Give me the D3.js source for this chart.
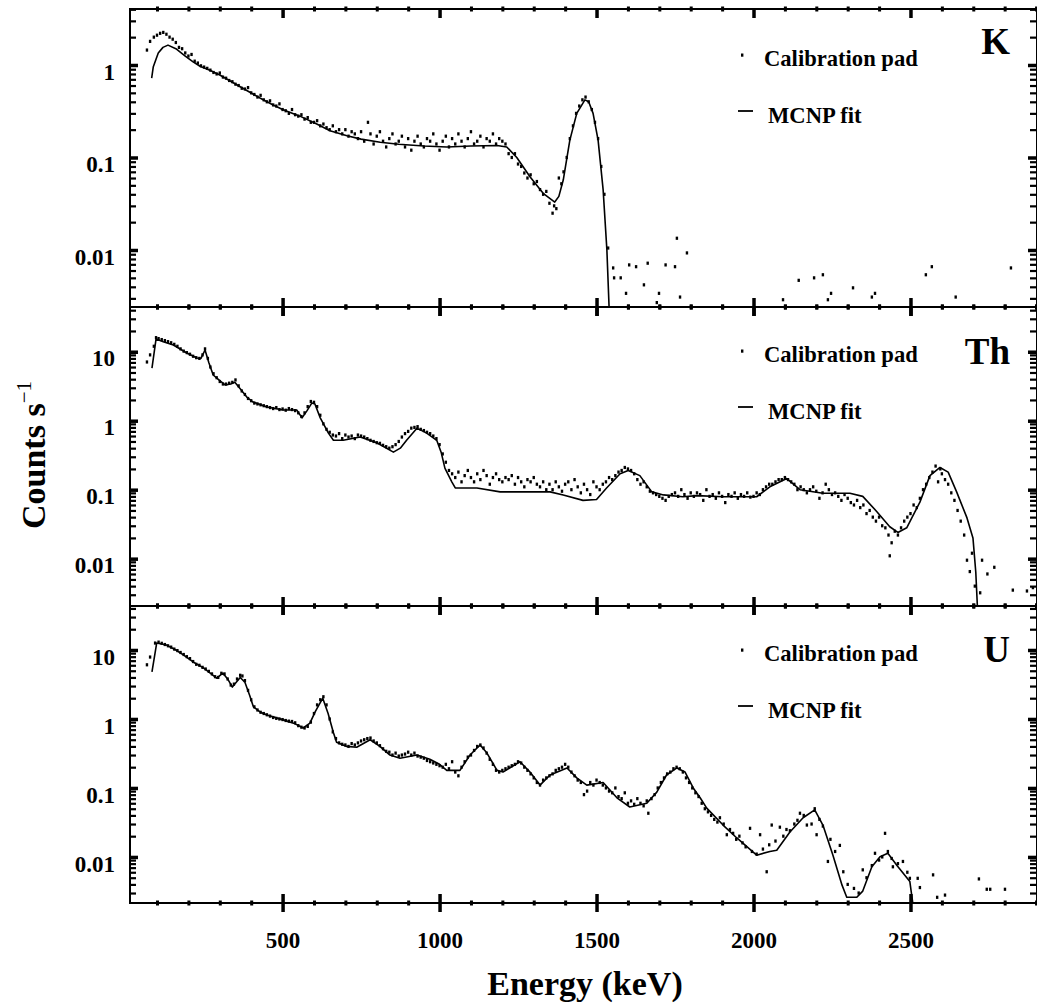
<!DOCTYPE html>
<html><head><meta charset="utf-8">
<script src="https://cdn.jsdelivr.net/npm/d3@7"></script>
<style>
body{margin:0;background:#fff}
svg{display:block}
text{font-family:"Liberation Serif","Times New Roman",serif;font-weight:bold;fill:#000}
</style>
</head><body>
<svg id="c" width="1037" height="1005"></svg>
<script>
// ---------- data (Energy keV, counts/s) ----------
const kFit = [[83,0.72],[88,0.95],[104,1.35],[119,1.55],[135,1.64],[160,1.5],[190,1.25],[215,1.08],[237,0.97],[270,0.87],[300,0.78],[340,0.65],[386,0.53],[428,0.44],[470,0.37],[500,0.33],[555,0.28],[609,0.23],[651,0.195],[705,0.172],[750,0.158],[811,0.146],[870,0.139],[950,0.133],[1023,0.13],[1100,0.133],[1183,0.135],[1214,0.13],[1246,0.1],[1288,0.062],[1330,0.041],[1367,0.033],[1380,0.038],[1394,0.057],[1415,0.154],[1437,0.3],[1463,0.42],[1475,0.4],[1489,0.3],[1505,0.154],[1521,0.045],[1533,0.01],[1540,0.0024]];
const kData = [[68,1.45],[78,1.8],[90,2.0],[100,2.1],[110,2.2],[120,2.25],[130,2.15],[140,2.0],[150,1.9],[160,1.75],[170,1.55],[180,1.5],[190,1.35],[200,1.25],[210,1.3],[220,1.1],[230,1.05],[240,0.98],[250,0.95],[260,0.92],[270,0.88],[280,0.83],[290,0.8],[300,0.82],[310,0.74],[320,0.72],[330,0.68],[340,0.66],[350,0.62],[360,0.6],[370,0.56],[380,0.55],[390,0.57],[400,0.5],[410,0.48],[420,0.45],[430,0.47],[440,0.42],[450,0.4],[460,0.41],[470,0.37],[480,0.36],[490,0.38],[500,0.33],[510,0.32],[520,0.3],[530,0.33],[540,0.29],[550,0.28],[560,0.29],[570,0.26],[580,0.27],[590,0.24],[600,0.24],[610,0.25],[620,0.22],[630,0.23],[640,0.21],[650,0.2],[660,0.22],[670,0.19],[680,0.2],[690,0.18],[700,0.2],[710,0.17],[720,0.19],[730,0.18],[740,0.16],[750,0.19],[760,0.15],[772,0.24],[780,0.18],[790,0.14],[800,0.17],[810,0.19],[820,0.15],[830,0.13],[840,0.16],[850,0.18],[860,0.14],[870,0.15],[880,0.17],[890,0.13],[900,0.16],[910,0.12],[920,0.15],[930,0.17],[940,0.14],[950,0.13],[960,0.16],[970,0.15],[980,0.18],[990,0.14],[1000,0.12],[1010,0.15],[1020,0.17],[1030,0.13],[1040,0.16],[1050,0.14],[1060,0.18],[1070,0.15],[1080,0.13],[1090,0.16],[1100,0.19],[1110,0.14],[1120,0.15],[1130,0.17],[1140,0.13],[1150,0.16],[1160,0.15],[1170,0.18],[1180,0.14],[1190,0.16],[1200,0.15],[1210,0.14],[1220,0.11],[1230,0.1],[1240,0.11],[1250,0.085],[1260,0.08],[1270,0.068],[1280,0.06],[1290,0.065],[1300,0.052],[1310,0.055],[1320,0.045],[1330,0.04],[1340,0.043],[1350,0.032],[1360,0.025],[1365,0.03],[1372,0.028],[1380,0.06],[1388,0.052],[1395,0.07],[1405,0.1],[1415,0.16],[1425,0.22],[1435,0.3],[1445,0.36],[1455,0.42],[1465,0.45],[1475,0.4],[1485,0.33],[1495,0.24],[1505,0.16],[1515,0.08],[1525,0.04],[1537,0.0105],[1553,0.0064],[1556,0.005],[1577,0.005],[1594,0.0034],[1604,0.0069],[1626,0.0066],[1651,0.0042],[1663,0.0072],[1692,0.0027],[1699,0.0034],[1720,0.0069],[1750,0.0066],[1756,0.0134],[1766,0.0031],[1788,0.0093],[2094,0.0029],[2144,0.0047],[2193,0.005],[2221,0.0054],[2237,0.0029],[2247,0.0034],[2317,0.0039],[2377,0.0031],[2387,0.0034],[2549,0.0054],[2568,0.0066],[2644,0.0031],[2820,0.0064]];

const thFit = [[84,5.8],[97,15.3],[120,14],[152,12.5],[195,9.6],[227,8.1],[240,8.0],[253,10.6],[265,7],[279,4.6],[300,3.8],[317,3.3],[335,3.4],[348,3.6],[365,2.9],[386,2.2],[406,1.86],[450,1.58],[502,1.43],[545,1.43],[562,1.1],[578,1.4],[593,1.8],[603,1.75],[620,1.1],[646,0.66],[662,0.52],[693,0.52],[747,0.58],[800,0.48],[853,0.35],[875,0.4],[895,0.52],[928,0.78],[959,0.66],[991,0.52],[1005,0.35],[1017,0.205],[1039,0.13],[1050,0.106],[1119,0.106],[1193,0.093],[1288,0.093],[1352,0.093],[1394,0.084],[1457,0.07],[1500,0.072],[1532,0.106],[1575,0.17],[1601,0.19],[1638,0.16],[1676,0.093],[1713,0.084],[1775,0.079],[1820,0.082],[1903,0.079],[2010,0.079],[2052,0.11],[2106,0.145],[2148,0.1],[2221,0.089],[2307,0.089],[2348,0.08],[2393,0.048],[2434,0.029],[2460,0.024],[2488,0.028],[2530,0.066],[2562,0.16],[2594,0.21],[2620,0.18],[2647,0.093],[2680,0.039],[2699,0.02],[2708,0.0064],[2713,0.0021]];
const thData = [[68,7.1],[78,9],[90,12],[97,16],[105,15.5],[115,15],[125,14.5],[135,14],[145,13.5],[155,12.8],[165,12],[175,11],[185,10.2],[195,9.7],[205,9.2],[215,8.6],[225,8.2],[235,8.0],[245,9.0],[253,11],[262,8.0],[270,6.0],[280,4.8],[290,4.2],[300,3.7],[310,3.4],[320,3.4],[330,3.5],[340,3.6],[350,3.9],[360,3.2],[370,2.7],[380,2.4],[390,2.1],[400,1.95],[410,1.8],[420,1.75],[430,1.7],[440,1.65],[450,1.6],[460,1.55],[470,1.5],[480,1.55],[490,1.45],[500,1.48],[510,1.42],[520,1.5],[530,1.45],[540,1.4],[550,1.3],[560,1.15],[570,1.3],[580,1.6],[590,1.9],[600,1.85],[610,1.6],[620,1.2],[630,0.9],[640,0.75],[650,0.68],[660,0.62],[670,0.6],[680,0.65],[690,0.55],[700,0.62],[710,0.58],[720,0.6],[730,0.55],[740,0.62],[750,0.6],[760,0.58],[770,0.55],[780,0.52],[790,0.5],[800,0.48],[810,0.47],[820,0.44],[830,0.42],[840,0.4],[850,0.42],[860,0.45],[870,0.5],[880,0.58],[890,0.65],[900,0.7],[910,0.78],[920,0.8],[930,0.82],[940,0.75],[950,0.72],[960,0.68],[970,0.65],[980,0.6],[990,0.55],[1000,0.45],[1010,0.33],[1020,0.25],[1030,0.19],[1040,0.17],[1050,0.15],[1060,0.18],[1070,0.13],[1080,0.16],[1090,0.19],[1100,0.15],[1110,0.13],[1120,0.17],[1130,0.14],[1140,0.19],[1150,0.16],[1160,0.12],[1170,0.15],[1180,0.17],[1190,0.14],[1200,0.13],[1210,0.15],[1220,0.14],[1230,0.16],[1240,0.12],[1250,0.15],[1260,0.13],[1270,0.11],[1280,0.14],[1290,0.13],[1300,0.15],[1310,0.12],[1320,0.11],[1330,0.13],[1340,0.1],[1350,0.12],[1360,0.1],[1370,0.13],[1380,0.11],[1390,0.095],[1400,0.12],[1410,0.13],[1420,0.1],[1430,0.14],[1440,0.11],[1450,0.09],[1460,0.12],[1470,0.1],[1480,0.085],[1490,0.13],[1500,0.11],[1510,0.1],[1520,0.12],[1530,0.13],[1540,0.15],[1550,0.14],[1560,0.16],[1570,0.18],[1580,0.19],[1590,0.21],[1600,0.2],[1610,0.19],[1620,0.17],[1630,0.14],[1640,0.12],[1650,0.13],[1660,0.11],[1670,0.095],[1680,0.09],[1690,0.085],[1700,0.08],[1710,0.075],[1720,0.07],[1730,0.08],[1740,0.085],[1750,0.09],[1760,0.08],[1770,0.1],[1780,0.085],[1790,0.075],[1800,0.09],[1810,0.08],[1820,0.09],[1830,0.085],[1840,0.07],[1850,0.1],[1860,0.08],[1870,0.085],[1880,0.075],[1890,0.09],[1900,0.08],[1910,0.065],[1920,0.085],[1930,0.08],[1940,0.09],[1950,0.075],[1960,0.085],[1970,0.08],[1980,0.09],[1990,0.078],[2000,0.08],[2010,0.09],[2020,0.085],[2030,0.1],[2040,0.11],[2050,0.12],[2060,0.12],[2070,0.13],[2080,0.14],[2090,0.14],[2100,0.15],[2110,0.14],[2120,0.13],[2130,0.12],[2140,0.1],[2150,0.11],[2160,0.1],[2170,0.09],[2180,0.1],[2190,0.11],[2200,0.095],[2210,0.075],[2220,0.09],[2230,0.12],[2240,0.1],[2250,0.085],[2260,0.09],[2270,0.08],[2280,0.07],[2290,0.085],[2300,0.075],[2310,0.065],[2320,0.06],[2330,0.07],[2340,0.055],[2350,0.06],[2360,0.045],[2370,0.05],[2380,0.04],[2390,0.035],[2400,0.04],[2410,0.03],[2420,0.028],[2430,0.022],[2434,0.011],[2440,0.017],[2450,0.025],[2460,0.022],[2470,0.028],[2480,0.035],[2490,0.04],[2500,0.045],[2510,0.06],[2520,0.055],[2530,0.075],[2540,0.1],[2550,0.12],[2560,0.15],[2570,0.18],[2580,0.22],[2588,0.13],[2595,0.2],[2600,0.17],[2610,0.14],[2620,0.12],[2630,0.09],[2640,0.07],[2650,0.05],[2660,0.035],[2671,0.022],[2680,0.0095],[2689,0.0065],[2696,0.012],[2705,0.004],[2722,0.0032],[2728,0.0095],[2745,0.006],[2767,0.0075],[2826,0.0035],[2871,0.0034],[2890,0.0038]];

const uFit = [[84,4.8],[99,12.6],[130,11.8],[160,10],[184,8.5],[215,6.7],[248,5.5],[290,3.9],[310,4.6],[325,3.8],[340,2.9],[365,4.0],[380,3.4],[395,2.2],[407,1.5],[430,1.25],[450,1.14],[502,0.97],[535,0.87],[566,0.74],[587,0.87],[605,1.3],[628,2.0],[645,1.2],[662,0.63],[672,0.46],[704,0.4],[736,0.39],[779,0.5],[810,0.4],[842,0.3],[874,0.27],[928,0.3],[969,0.26],[1000,0.22],[1023,0.18],[1065,0.18],[1097,0.3],[1129,0.42],[1151,0.32],[1183,0.18],[1202,0.17],[1256,0.24],[1288,0.17],[1320,0.11],[1352,0.154],[1406,0.195],[1437,0.14],[1469,0.11],[1521,0.12],[1565,0.072],[1606,0.053],[1660,0.06],[1692,0.087],[1723,0.154],[1756,0.195],[1782,0.17],[1808,0.1],[1830,0.072],[1851,0.051],[1903,0.029],[1946,0.019],[2010,0.0106],[2052,0.012],[2074,0.0125],[2116,0.023],[2158,0.037],[2195,0.048],[2221,0.029],[2253,0.0106],[2282,0.0039],[2297,0.0026],[2329,0.0026],[2348,0.0032],[2377,0.0072],[2403,0.0101],[2428,0.0113],[2457,0.0075],[2498,0.0044],[2507,0.0022]];
const uData = [[68,6.1],[78,7.9],[94,12.6],[105,13],[115,12.5],[125,12],[135,11.5],[145,11],[155,10.3],[165,9.8],[175,9.2],[185,8.6],[195,8],[205,7.5],[215,6.8],[225,6.2],[235,6.0],[245,5.6],[255,5.3],[265,4.9],[275,4.5],[285,4.1],[295,4.0],[305,4.6],[315,4.5],[325,3.8],[335,3.1],[345,3.2],[355,3.8],[365,4.3],[372,4.2],[380,3.6],[390,2.6],[400,1.9],[410,1.5],[420,1.35],[430,1.25],[440,1.2],[450,1.15],[460,1.1],[470,1.05],[480,1.02],[490,1.0],[500,0.98],[510,0.95],[520,0.93],[530,0.92],[540,0.88],[550,0.8],[560,0.76],[570,0.74],[580,0.78],[590,0.9],[600,1.2],[610,1.6],[620,1.9],[630,2.1],[640,1.6],[650,1.0],[660,0.65],[670,0.52],[680,0.45],[690,0.43],[700,0.42],[710,0.4],[720,0.44],[730,0.42],[740,0.45],[750,0.48],[760,0.5],[770,0.52],[780,0.53],[790,0.48],[800,0.45],[810,0.41],[820,0.37],[830,0.34],[840,0.33],[850,0.3],[860,0.32],[870,0.29],[880,0.3],[890,0.31],[900,0.33],[910,0.3],[920,0.32],[930,0.29],[940,0.28],[950,0.27],[960,0.25],[970,0.24],[980,0.23],[990,0.22],[1000,0.21],[1010,0.2],[1020,0.22],[1030,0.19],[1040,0.24],[1050,0.17],[1060,0.15],[1070,0.2],[1080,0.24],[1090,0.28],[1100,0.3],[1110,0.35],[1120,0.4],[1130,0.42],[1140,0.38],[1150,0.32],[1160,0.26],[1170,0.22],[1180,0.18],[1190,0.17],[1200,0.18],[1210,0.19],[1220,0.2],[1230,0.21],[1240,0.22],[1250,0.24],[1260,0.23],[1270,0.2],[1280,0.18],[1290,0.16],[1300,0.14],[1310,0.12],[1320,0.11],[1330,0.13],[1340,0.14],[1350,0.15],[1360,0.16],[1370,0.18],[1380,0.19],[1390,0.2],[1400,0.22],[1410,0.2],[1420,0.17],[1430,0.15],[1440,0.13],[1450,0.12],[1460,0.08],[1470,0.09],[1480,0.12],[1490,0.11],[1500,0.13],[1510,0.12],[1520,0.11],[1530,0.1],[1540,0.09],[1550,0.085],[1560,0.1],[1570,0.075],[1580,0.07],[1590,0.085],[1600,0.06],[1610,0.065],[1620,0.058],[1630,0.07],[1640,0.06],[1650,0.055],[1660,0.065],[1665,0.043],[1675,0.07],[1685,0.08],[1695,0.1],[1705,0.12],[1715,0.14],[1725,0.16],[1735,0.17],[1745,0.19],[1755,0.2],[1765,0.19],[1775,0.17],[1785,0.14],[1795,0.12],[1805,0.1],[1815,0.085],[1825,0.075],[1835,0.06],[1845,0.05],[1855,0.045],[1865,0.04],[1875,0.035],[1885,0.032],[1893,0.037],[1905,0.03],[1915,0.021],[1925,0.025],[1935,0.022],[1945,0.018],[1955,0.02],[1965,0.016],[1975,0.014],[1989,0.026],[1995,0.012],[2010,0.011],[2021,0.021],[2030,0.013],[2042,0.0061],[2050,0.015],[2058,0.029],[2070,0.017],[2084,0.027],[2095,0.02],[2105,0.025],[2116,0.024],[2130,0.03],[2140,0.034],[2148,0.043],[2160,0.04],[2170,0.029],[2185,0.03],[2195,0.05],[2201,0.021],[2210,0.035],[2221,0.028],[2237,0.0086],[2245,0.018],[2260,0.012],[2275,0.0147],[2286,0.0061],[2300,0.004],[2320,0.0035],[2335,0.003],[2348,0.0065],[2360,0.005],[2377,0.0075],[2387,0.0113],[2400,0.009],[2410,0.01],[2419,0.022],[2428,0.012],[2440,0.0095],[2444,0.0072],[2460,0.008],[2476,0.0086],[2490,0.006],[2498,0.0049],[2523,0.0049],[2530,0.0036],[2572,0.0055],[2585,0.0026],[2610,0.0028],[2718,0.0048],[2743,0.0034],[2754,0.0034],[2801,0.0034]];

const panelNames = ["K", "Th", "U"];
const yTickValuesK = [1, 0.1, 0.01];
const yTickValuesThU = [10, 1, 0.1, 0.01];
const xMajorTicks = [500, 1000, 1500, 2000, 2500];
const legendLabels = ["Calibration pad", "MCNP fit"];
const xTitle = "Energy (keV)";

// ---------- layout ----------
const svg = d3.select("#c");
const L = 130, R = 1037;
const x = d3.scaleLinear().domain([14, 2903]).range([L, R]);

const panels = [
  {name: panelNames[0], fit: kFit, data: kData, top: 9, bottom: 307, dom: [0.00242, 4.03], ticks: yTickValuesK, nameY: 54, legY: 0},
  {name: panelNames[1], fit: thFit, data: thData, top: 307, bottom: 606, dom: [0.00206, 44.5], ticks: yTickValuesThU, nameY: 364, legY: 296},
  {name: panelNames[2], fit: uFit, data: uData, top: 606, bottom: 903, dom: [0.00215, 43.4], ticks: yTickValuesThU, nameY: 662, legY: 595}
];

const fmt = v => String(v);
const xMinor = d3.range(100, 2901, 100).filter(v => v % 500 !== 0);

panels.forEach((p, i) => {
  const y = d3.scaleLog().domain(p.dom).range([p.bottom, p.top]);
  const g = svg.append("g");

  const minorY = [];
  for (let e = -3; e <= 1; e++) for (let k = 2; k <= 9; k++) {
    const v = k * Math.pow(10, e);
    if (v > p.dom[0] && v < p.dom[1]) minorY.push(v);
  }
  const majorYAll = [0.001, 0.01, 0.1, 1, 10].filter(v => v > p.dom[0] && v < p.dom[1]);

  const cid = "clip" + i;
  svg.append("clipPath").attr("id", cid).append("rect")
    .attr("x", L).attr("y", p.top).attr("width", R - L).attr("height", p.bottom - p.top);

  const plot = g.append("g").attr("clip-path", `url(#${cid})`);
  plot.selectAll("rect.dot").data(p.data).enter().append("rect")
    .attr("class", "dot")
    .attr("x", d => x(d[0]) - 1.2).attr("y", d => y(d[1]) - 1.6)
    .attr("width", 2.4).attr("height", 3.2).attr("fill", "#000");
  plot.append("path").datum(p.fit)
    .attr("d", d3.line().x(d => x(d[0])).y(d => Math.min(y(d[1]), p.bottom + 2)))
    .attr("fill", "none").attr("stroke", "#000").attr("stroke-width", 1.6)
    .attr("stroke-linejoin", "round");

  const yl = g.append("g").attr("transform", `translate(${L},0)`)
    .call(d3.axisLeft(y).tickValues(p.ticks).tickSizeInner(-8).tickSizeOuter(0).tickPadding(15).tickFormat(fmt));
  yl.select(".domain").remove();
  yl.selectAll("line").attr("stroke-width", 3.5);
  yl.selectAll("text").attr("font-size", 23).attr("dy", "0.62em")
    .style("font-family", '"Liberation Serif","Times New Roman",serif').style("font-weight", "bold");
  const ylm = g.append("g").attr("transform", `translate(${L},0)`)
    .call(d3.axisLeft(y).tickValues(minorY).tickSizeInner(-6).tickSizeOuter(0).tickFormat(""));
  ylm.select(".domain").remove();
  ylm.selectAll("line").attr("stroke-width", 2.2);

  const yr = g.append("g").attr("transform", `translate(${R},0)`)
    .call(d3.axisRight(y).tickValues(majorYAll).tickSizeInner(-9).tickSizeOuter(0).tickFormat(""));
  yr.select(".domain").remove();
  yr.selectAll("line").attr("stroke-width", 3.5);
  const yrm = g.append("g").attr("transform", `translate(${R},0)`)
    .call(d3.axisRight(y).tickValues(minorY).tickSizeInner(-7).tickSizeOuter(0).tickFormat(""));
  yrm.select(".domain").remove();
  yrm.selectAll("line").attr("stroke-width", 2.2);

  [p.top, p.bottom].forEach((yy, j) => {
    const isLast = (i === panels.length - 1 && j === 1);
    const ax = g.append("g").attr("transform", `translate(0,${yy})`)
      .call(d3.axisBottom(x).tickValues(xMajorTicks).tickSizeOuter(0).tickSizeInner(9).tickPadding(20)
        .tickFormat(isLast ? d3.format("d") : ""));
    ax.select(".domain").remove();
    ax.selectAll("line").attr("y1", j === 0 ? 0 : -9).attr("y2", 9).attr("stroke-width", 3.5);
    if (i === 0 && j === 0) ax.selectAll("line").attr("y1", 0).attr("y2", 9);
    ax.selectAll("text").attr("font-size", 23)
      .style("font-family", '"Liberation Serif","Times New Roman",serif').style("font-weight", "bold");
    const axm = g.append("g").attr("transform", `translate(0,${yy})`)
      .call(d3.axisBottom(x).tickValues(xMinor).tickSizeOuter(0).tickSizeInner(2.5).tickFormat(""));
    axm.select(".domain").remove();
    axm.selectAll("line").attr("y1", -2.5).attr("y2", 2.5).attr("stroke-width", 3);
  });

  g.append("rect").attr("x", L).attr("y", p.top).attr("width", R - L).attr("height", p.bottom - p.top)
    .attr("fill", "none").attr("stroke", "#000").attr("stroke-width", 2);

  g.append("text").attr("x", 1010).attr("y", p.nameY).attr("text-anchor", "end")
    .attr("font-size", 37).text(p.name);

  const lg = g.append("g").attr("transform", `translate(0,${p.legY})`);
  lg.append("rect").attr("x", 741).attr("y", 53.5).attr("width", 2.4).attr("height", 3.2).attr("fill", "#000");
  lg.append("text").attr("x", 764).attr("y", 66).attr("font-size", 22.6).text(legendLabels[0]);
  lg.append("line").attr("x1", 738).attr("x2", 753).attr("y1", 111).attr("y2", 111)
    .attr("stroke", "#000").attr("stroke-width", 1.8);
  lg.append("text").attr("x", 768).attr("y", 123).attr("font-size", 22.6).text(legendLabels[1]);
});

svg.append("text").attr("x", 585).attr("y", 995).attr("text-anchor", "middle")
  .attr("font-size", 34).text(xTitle);

const yt = svg.append("text").attr("transform", "translate(45,455) rotate(-90)")
  .attr("text-anchor", "middle").attr("font-size", 34);
yt.append("tspan").text("Counts s");
yt.append("tspan").attr("dy", -14).attr("font-size", 21).attr("font-weight", "normal").text("\u22121");
</script>
</body></html>
